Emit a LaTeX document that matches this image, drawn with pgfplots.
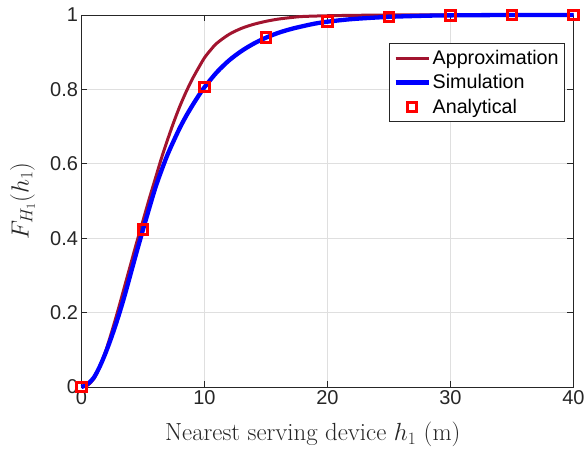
\RequirePackage{fix-cm}
\documentclass[border=0pt]{standalone}
\usepackage{fontspec}
\usepackage{pgfplots}
\pgfplotsset{compat=1.18}
\newfontfamily\arial{Liberation Sans}
\definecolor{approx}{RGB}{162,20,47}
\definecolor{axgray}{RGB}{38,38,38}
\definecolor{gridgray}{RGB}{223,223,223}
\pgfplotsset{markleg/.style={legend image code/.code={\draw[##1, mark size=4.2pt] plot coordinates {(16.5pt,0pt)};}}}

\begin{document}
\begin{tikzpicture}
\begin{axis}[
    name=ax,
    scale only axis,
    width=492pt, height=372pt,
    xmin=0, xmax=40, ymin=0, ymax=1,
    xtick={0,10,20,30,40},
    ytick={0,0.2,0.4,0.6,0.8,1},
    grid=major,
    major grid style={gridgray, line width=0.8pt},
    axis line style={axgray, line width=0.9pt},
    tick style={axgray, line width=0.9pt},
    major tick length=6pt,
    tick align=inside,
    ticklabel style={font=\arial\fontsize{20}{22}\selectfont, text=axgray},
    /pgf/number format/assume math mode=true,
    xlabel={Nearest serving device $h_1$ (m)},
    ylabel={$F_{H_1}(h_1)$},
    label style={font=\fontsize{24.8}{28}\selectfont, text=black!85},
    xlabel style={at={(axis description cs:0.47,-0.145)}, anchor=base},
    ylabel style={at={(axis description cs:-0.12,0.5)}, anchor=center},
    legend style={at={(axis description cs:0.9827,0.9247)}, anchor=north east,
        draw=axgray, line width=0.8pt, fill=white,
        font=\arial\fontsize{19.7}{22}\selectfont,
        inner xsep=4pt, inner ysep=5pt, row sep=4.5pt},
    legend cell align=left,
    legend image code/.code={\draw[#1] plot coordinates {(0pt,0pt) (16.5pt,0pt) (33pt,0pt)};},
    clip=false,
]
% Approximation
\addplot[approx, line width=3pt, smooth] coordinates {
(0,0) (0.5,0.005) (1,0.022) (1.5,0.055) (2,0.10) (2.5,0.153) (3,0.21) (3.5,0.27)
(4,0.33) (4.5,0.39) (5,0.447) (5.5,0.505) (6,0.56) (6.5,0.615) (7,0.665) (7.5,0.712)
(8,0.755) (8.5,0.793) (9,0.827) (9.5,0.857) (10,0.885) (10.5,0.906) (11,0.924)
(12,0.948) (13,0.964) (14,0.975) (15,0.983) (16,0.989) (17,0.993) (18,0.996)
(20,0.998) (22,0.999) (25,1) (30,1) (40,1)};
\addlegendentry{Approximation}
% Simulation
\addplot[blue, line width=4.3pt, smooth] coordinates {
(0,0) (0.5,0.008) (1,0.025) (1.5,0.056) (2,0.095) (2.5,0.14) (3,0.19) (3.5,0.245)
(4,0.305) (4.5,0.365) (5,0.423) (5.5,0.48) (6,0.535) (6.5,0.582) (7,0.625)
(7.5,0.662) (8,0.697) (8.5,0.728) (9,0.756) (9.5,0.782) (10,0.806) (11,0.846)
(12,0.878) (13,0.903) (14,0.923) (15,0.939) (16,0.952) (17,0.962) (18,0.970)
(19,0.977) (20,0.982) (22,0.989) (25,0.995) (28,0.998) (30,0.999) (35,1) (40,1)};
\addlegendentry{Simulation}
% Analytical
\addplot[red, only marks, mark=square, mark size=4.7pt, line width=3pt, markleg]
    coordinates {
(0,0) (5,0.423) (10,0.806) (15,0.939) (20,0.982) (25,0.995) (30,0.999) (35,1) (40,1)};
\addlegendentry{Analytical}
\end{axis}
\pgfresetboundingbox
\useasboundingbox ([shift={(-81.5pt,-65pt)}]ax.south west) rectangle ([shift={(10.5pt,15pt)}]ax.north east);
\end{tikzpicture}
\end{document}
